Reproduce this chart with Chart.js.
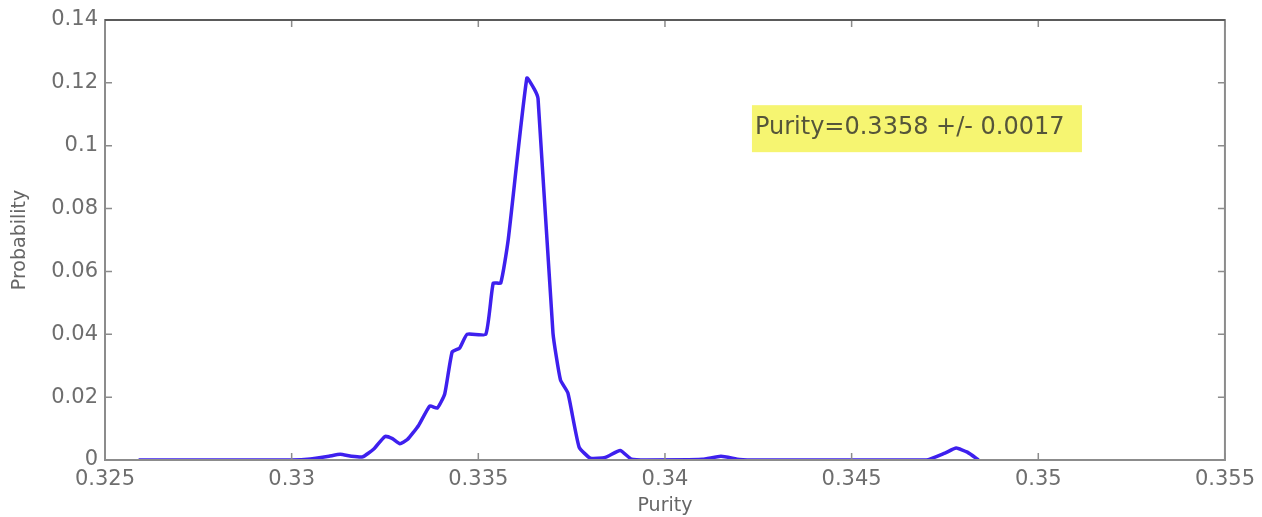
<!DOCTYPE html>
<html>
<head>
<meta charset="utf-8">
<script src="https://cdn.jsdelivr.net/npm/chart.js@4"></script>
<style>
  html, body { margin: 0; padding: 0; background: #ffffff; }
  #wrap { width: 1262px; height: 517px; }
</style>
</head>
<body>
<div id="wrap"><canvas id="grafico"></canvas></div>
<script>
// DATOS
const purity = [
    0.3259, 0.3300, 0.3305, 0.3310, 0.3313, 0.3316, 0.3319, 0.3322, 0.3325, 0.3327,
    0.3329, 0.3331, 0.3334, 0.3337, 0.3339, 0.3341, 0.3343, 0.3345, 0.3347, 0.3352,
    0.3354, 0.3356, 0.3358, 0.3363, 0.3365, 0.3366, 0.3370, 0.3372, 0.3374, 0.3377,
    0.3380, 0.3384, 0.3388, 0.3391, 0.3395, 0.3410, 0.3415, 0.3420, 0.3425, 0.3470,
    0.3475, 0.3478, 0.3481, 0.3484
];
const probability = [
    0, 0, 0.0003, 0.0012, 0.0018, 0.0012, 0.0010, 0.0035, 0.0075, 0.0068,
    0.0052, 0.0065, 0.0110, 0.0172, 0.0165, 0.0210, 0.0344, 0.0356, 0.0400, 0.0400,
    0.0563, 0.0563, 0.0700, 0.1215, 0.1180, 0.1150, 0.0404, 0.0255, 0.0213, 0.0041,
    0.0006, 0.0008, 0.0030, 0.0003, 0, 0.0002, 0.0012, 0.0002, 0, 0,
    0.0022, 0.0038, 0.0025, 0
];
const xTicks = [0.325, 0.33, 0.335, 0.34, 0.345, 0.35, 0.355];
const yTicks = [0, 0.02, 0.04, 0.06, 0.08, 0.1, 0.12, 0.14];
const textoCaja = 'Purity=0.3358 +/- 0.0017';
// ----------------

const puntos = purity.map((p, i) => ({ x: p, y: probability[i] }));
const formato = v => String(parseFloat(v.toFixed(4)));
const gris = '#8c8c8c';
const fuente = '"DejaVu Sans", Verdana, sans-serif';

// ticks hacia adentro + caja superior/derecha
const marcoMatlab = {
    id: 'marcoMatlab',
    afterDraw(chart) {
        const ctx = chart.ctx;
        const a = chart.chartArea;
        const sx = chart.scales.x;
        const sy = chart.scales.y;
        ctx.save();
        ctx.strokeStyle = gris;
        ctx.lineWidth = 1.5;
        ctx.beginPath();
        xTicks.forEach(t => {
            const px = sx.getPixelForValue(t);
            ctx.moveTo(px, a.bottom); ctx.lineTo(px, a.bottom - 7);
            ctx.moveTo(px, a.top); ctx.lineTo(px, a.top + 7);
        });
        yTicks.forEach(t => {
            const py = sy.getPixelForValue(t);
            ctx.moveTo(a.left, py); ctx.lineTo(a.left + 7, py);
            ctx.moveTo(a.right, py); ctx.lineTo(a.right - 7, py);
        });
        ctx.stroke();
        ctx.lineWidth = 2;
        ctx.strokeRect(a.left, a.top, a.right - a.left, a.bottom - a.top);
        ctx.strokeStyle = '#5a5a5a';
        ctx.beginPath();
        ctx.moveTo(a.left, a.top); ctx.lineTo(a.right, a.top);
        ctx.stroke();
        ctx.restore();
    }
};

const cajaTexto = {
    id: 'cajaTexto',
    afterDatasetsDraw(chart) {
        const ctx = chart.ctx;
        const x0 = chart.scales.x.getPixelForValue(0.34233);
        const y0 = chart.scales.y.getPixelForValue(0.1129);
        ctx.save();
        ctx.fillStyle = '#f6f571';
        ctx.fillRect(x0, y0, 330, 47);
        ctx.fillStyle = '#55553a';
        ctx.font = '24px ' + fuente;
        ctx.textBaseline = 'middle';
        ctx.fillText(textoCaja, x0 + 3, y0 + 23);
        ctx.restore();
    }
};

const config = {
    type: 'line',
    data: {
        datasets: [{
            data: puntos,
            borderColor: 'rgb(62, 32, 238)',
            borderWidth: 3.5,
            pointRadius: 0,
            tension: 0.15,
            fill: false
        }]
    },
    options: {
        responsive: true,
        maintainAspectRatio: false,
        animation: false,
        layout: { padding: { top: 20, right: 35, left: 0, bottom: 0 } },
        plugins: { legend: { display: false }, tooltip: { enabled: false } },
        scales: {
            x: {
                type: 'linear',
                min: 0.325,
                max: 0.355,
                afterBuildTicks: s => { s.ticks = xTicks.map(v => ({ value: v })); },
                afterFit: s => { s.height = 57; },
                grid: { display: false, drawTicks: false },
                border: { display: false },
                ticks: {
                    color: '#6e6e6e',
                    padding: 7,
                    font: { size: 21, family: fuente },
                    callback: v => formato(v),
                    maxRotation: 0,
                    autoSkip: false
                },
                title: {
                    display: true,
                    text: 'Purity',
                    color: '#666',
                    padding: { top: 0, bottom: 0 },
                    font: { size: 19, family: fuente }
                }
            },
            y: {
                min: 0,
                max: 0.14,
                afterBuildTicks: s => { s.ticks = yTicks.map(v => ({ value: v })); },
                afterFit: s => { s.width = 105; },
                grid: { display: false, drawTicks: false },
                border: { display: false },
                ticks: {
                    color: '#6e6e6e',
                    padding: 7,
                    font: { size: 21, family: fuente },
                    callback: v => formato(v),
                    autoSkip: false
                },
                title: {
                    display: true,
                    text: 'Probability',
                    color: '#666',
                    padding: { top: 9, bottom: 0 },
                    font: { size: 19, family: fuente }
                }
            }
        }
    },
    plugins: [marcoMatlab, cajaTexto]
};

const lienzo = document.getElementById('grafico');
const grafico = new Chart(lienzo, config);
</script>
</body>
</html>
